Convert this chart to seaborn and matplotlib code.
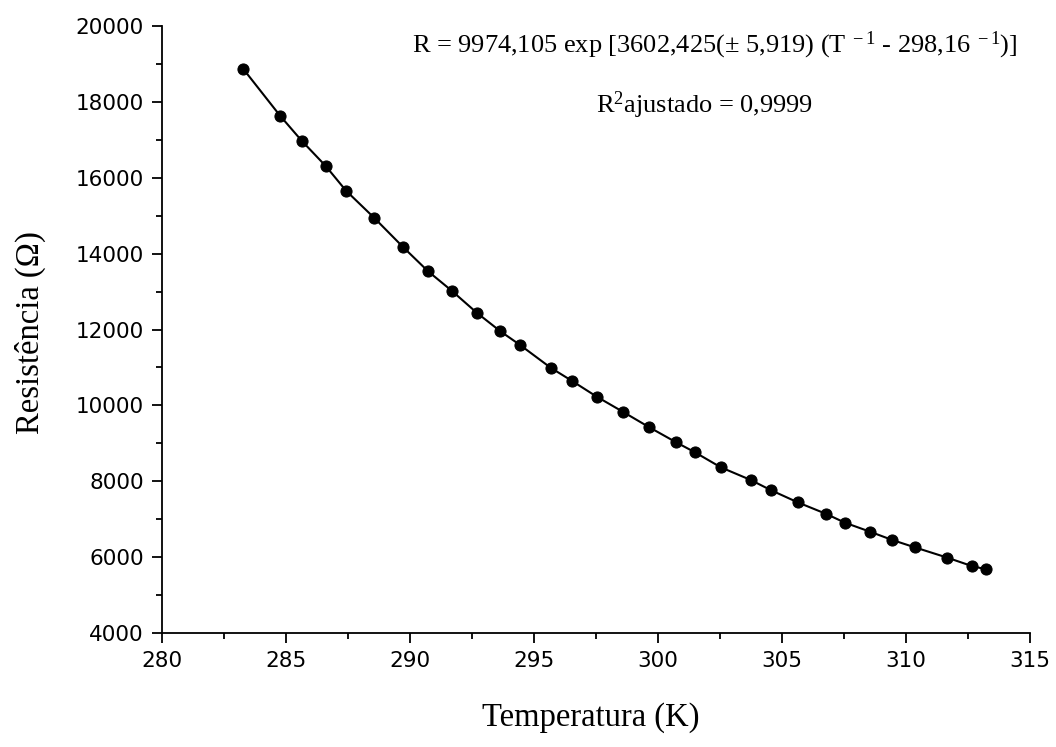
import matplotlib
matplotlib.use("Agg")
import matplotlib.pyplot as plt
from matplotlib.ticker import MultipleLocator
import seaborn as sns
import pandas as pd

# Data
temperature_K = [283.28, 284.76, 285.63, 286.60, 287.42, 288.55, 289.73, 290.73,
                 291.68, 292.69, 293.63, 294.44, 295.67, 296.52, 297.53, 298.60,
                 299.65, 300.73, 301.49, 302.53, 303.74, 304.54, 305.63, 306.76,
                 307.54, 308.55, 309.45, 310.35, 311.67, 312.65, 313.23]
resistance_ohm = [18866, 17636, 16977, 16310, 15659, 14947, 14167, 13534,
                  13023, 12443, 11960, 11591, 10993, 10650, 10229, 9825,
                  9422, 9027, 8763, 8368, 8033, 7769, 7445, 7145,
                  6907, 6670, 6451, 6259, 5985, 5766, 5679]

x_label = "Temperatura (K)"
y_label = "Resistência (Ω)"
eq_text = r"R = 9974,105 exp [3602,425($\pm$ 5,919) (T$^{\ -1}$ - 298,16$^{\ -1}$)]"
r2_text = r"R$^{2}$ajustado = 0,9999"

df = pd.DataFrame({"T": temperature_K, "R": resistance_ohm})

sns.set_theme(style="white")
plt.rcParams["font.family"] = ["DejaVu Sans"]
plt.rcParams["mathtext.fontset"] = "custom"
plt.rcParams["mathtext.rm"] = "Liberation Serif"
plt.rcParams["mathtext.it"] = "Liberation Serif:italic"
plt.rcParams["mathtext.bf"] = "Liberation Serif:bold"

fig = plt.figure(figsize=(10.56, 7.47), dpi=100)
ax = fig.add_axes([162 / 1056, 1 - 633 / 747, (1030 - 162) / 1056, (633 - 26) / 747])

sns.lineplot(data=df, x="T", y="R", ax=ax, color="black", linewidth=1.5,
             marker="o", markersize=8, markeredgecolor="black",
             markerfacecolor="black", sort=False)

ax.set_xlim(280, 315)
ax.set_ylim(4000, 20000)
ax.xaxis.set_major_locator(MultipleLocator(5))
ax.xaxis.set_minor_locator(MultipleLocator(2.5))
ax.yaxis.set_major_locator(MultipleLocator(2000))
ax.yaxis.set_minor_locator(MultipleLocator(1000))

for side in ["top", "right"]:
    ax.spines[side].set_visible(False)
for side in ["left", "bottom"]:
    ax.spines[side].set_color("black")
    ax.spines[side].set_linewidth(1.3)

ax.tick_params(axis="both", which="major", direction="out", length=7, width=1.3,
               color="black", labelsize=15.5, labelcolor="black", pad=6,
               bottom=True, left=True)
ax.tick_params(axis="both", which="minor", direction="out", length=4.5, width=1.3,
               color="black", bottom=True, left=True)

ax.set_xlabel(x_label, family="Liberation Serif", fontsize=23.5, color="black")
ax.set_ylabel(y_label, family="Liberation Serif", fontsize=23.5, color="black")
ax.xaxis.set_label_coords((591 - 162) / 868, (633 - 718) / 607)
ax.yaxis.set_label_coords((30 - 162) / 868, (633 - 333) / 607)
ax.xaxis.label.set_verticalalignment("center")
ax.yaxis.label.set_verticalalignment("center")

ax.text(1017 / 1056, 1 - 45 / 747, eq_text, transform=fig.transFigure,
        ha="right", va="center", family="Liberation Serif", fontsize=19, color="black")
ax.text(705 / 1056, 1 - 105 / 747, r2_text, transform=fig.transFigure,
        ha="center", va="center", family="Liberation Serif", fontsize=19, color="black")

fig.savefig("out.png", dpi=100)
